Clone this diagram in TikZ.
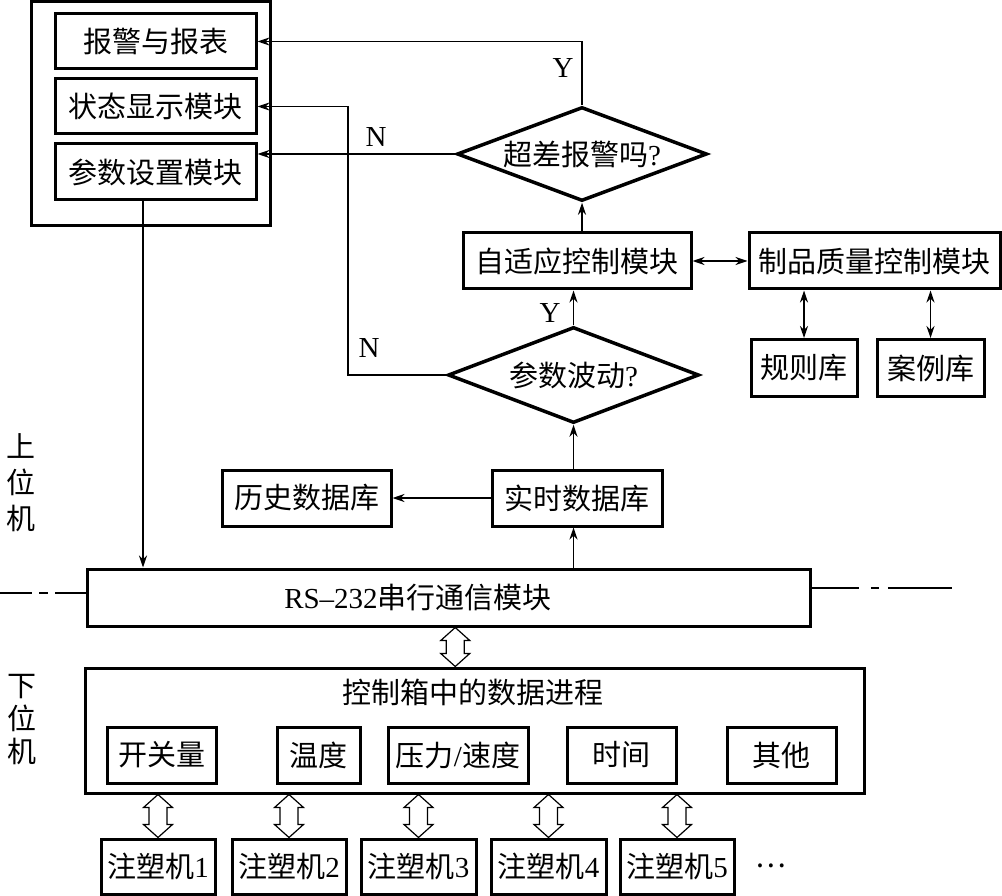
\documentclass[tikz,border=0pt]{standalone}
\usepackage{fontspec}
\setmainfont{Noto Sans CJK SC}
\newfontfamily\lat{Liberation Serif}
\usetikzlibrary{arrows.meta,calc,shapes.geometric}
\newcommand\hollowarr[2]{\draw[line width=1.2pt,fill=white,line join=miter] let \p1=#1, \p2=#2 in
  (\x1,\y1) -- (\x1+14.5pt,\y1-13pt) -- (\x1+9pt,\y1-13pt) -- (\x1+9pt,\y2+13pt) -- (\x1+14.5pt,\y2+13pt)
  -- (\x1,\y2) -- (\x1-14.5pt,\y2+13pt) -- (\x1-9pt,\y2+13pt) -- (\x1-9pt,\y1-13pt) -- (\x1-14.5pt,\y1-13pt) -- cycle;}
\begin{document}
\begin{tikzpicture}[x=1pt,y=-1pt,
  every node/.style={font=\fontsize{29pt}{32pt}\selectfont,inner sep=0pt},
  blk/.style={draw,line width=3pt,minimum height=55pt},
  dia/.style={draw,line width=3.5pt,shape=diamond,aspect=2.66,minimum width=250pt,minimum height=94pt},
  conn/.style={line width=1.3pt},
  arr/.style={conn,-{Stealth[length=12pt,width=8pt,inset=4pt]}},
  arrtwo/.style={conn,{Stealth[length=12pt,width=8pt,inset=4pt]}-{Stealth[length=12pt,width=8pt,inset=4pt]}},
  lbl/.style={font=\lat\fontsize{29pt}{32pt}\selectfont}]
\useasboundingbox (0,0) rectangle (1002,896);
% upper left group
\node[blk,minimum width=239pt,minimum height=224pt] (outer) at (150.5,114) {};
\node[blk,minimum width=201pt] (alarm) at (155.5,41.5) {报警与报表};
\node[blk,minimum width=201pt] (status) at (155.5,106.5) {状态显示模块};
\node[blk,minimum width=201pt,minimum height=56pt] (param) at (155.5,172) {参数设置模块};
% decisions and modules
\node[dia] (d1) at (582,154) {超差报警吗{\lat ?}};
\node[blk,minimum width=228pt,minimum height=56pt] (adapt) at (577,261) {自适应控制模块};
\node[blk,minimum width=251pt,minimum height=56pt] (quality) at (874.5,261) {制品质量控制模块};
\node[blk,minimum width=106pt,minimum height=57pt] (rule) at (804,368) {规则库};
\node[blk,minimum width=107pt,minimum height=57pt] (case) at (930.5,368) {案例库};
\node[dia,minimum width=251pt,minimum height=96pt] (d2) at (573.5,375) {参数波动{\lat ?}};
\node[blk,minimum width=169pt,minimum height=56pt] (hist) at (306.5,498) {历史数据库};
\node[blk,minimum width=170pt,minimum height=56pt] (rt) at (577,498) {实时数据库};
% side labels
\node[align=center,font=\fontsize{29pt}{36pt}\selectfont] (upper) at (21,483) {上\\位\\机};
\node[align=center,font=\fontsize{29pt}{33pt}\selectfont] (lower) at (22,720) {下\\位\\机};
% RS-232
\node[blk,minimum width=723pt,minimum height=57pt] (rs) at (448.75,597.5) {};
\node (rstext) at (418,598) {{\lat RS–232}串行通信模块};
% control box
\node[blk,minimum width=779pt,minimum height=125pt] (ctrl) at (474.5,730.5) {};
\node (ctrltitle) at (473,692) {控制箱中的数据进程};
\node[blk,minimum width=109pt,minimum height=56pt] (c1) at (161.5,755) {开关量};
\node[blk,minimum width=83pt,minimum height=56pt] (c2) at (318.5,755) {温度};
\node[blk,minimum width=140pt,minimum height=56pt] (c3) at (458,755) {压力{\lat /}速度};
\node[blk,minimum width=109pt,minimum height=56pt] (c4) at (621.5,755) {时间};
\node[blk,minimum width=109pt,minimum height=56pt] (c5) at (781.5,755) {其他};
% machines
\node[blk,minimum width=114pt] (m1) at (158,866.5) {注塑机{\lat 1}};
\node[blk,minimum width=114pt] (m2) at (289,866.5) {注塑机{\lat 2}};
\node[blk,minimum width=115pt] (m3) at (418.5,866.5) {注塑机{\lat 3}};
\node[blk,minimum width=115pt] (m4) at (548.5,866.5) {注塑机{\lat 4}};
\node[blk,minimum width=114pt] (m5) at (677,866.5) {注塑机{\lat 5}};
\node (dots) at (771,866) {…};
% labels Y / N
\node[lbl] (y1) at (563,68) {Y};
\node[lbl] (y2) at (550,313) {Y};
\node[lbl] (n1) at (376,137) {N};
\node[lbl] (n2) at (369,348) {N};
% coordinates
\coordinate (nbend) at (348,375);
\coordinate (pd) at (143,0);
\coordinate (lend) at (0,593);
\coordinate (rend) at (952,588);
\coordinate (hx) at ($(rs.south)+(6.5,0)$);
% connectors
\draw[arr] (d1.north) |- (alarm.east);
\draw[arr] (d1.west) -- (d1.west -| param.east);
\draw[arr] (d2.west) -- (nbend) |- (status.east);
\draw[arr] (d1.south |- adapt.north) -- (d1.south);
\draw[arr] (d2.north) -- (d2.north |- adapt.south);
\draw[arrtwo] (adapt.east) -- (quality.west);
\draw[arrtwo] (rule.north) -- (rule.north |- quality.south);
\draw[arrtwo] (case.north) -- (case.north |- quality.south);
\draw[arr] (d2.south |- rt.north) -- (d2.south);
\draw[arr] (rt.west) -- (hist.east);
\draw[arr] (d2.south |- rs.north) -- (d2.south |- rt.south);
\draw[arr] (param.south -| pd) -- (rs.north -| pd);
% dash-dot boundary line
\draw[conn,dash pattern=on 32pt off 7pt on 9pt off 7pt on 40pt] (lend) -- (lend -| rs.west);
\draw[conn,dash pattern=on 47pt off 12pt on 8pt off 9pt on 80pt] (rend -| rs.east) -- (rend);
% hollow double arrows
\hollowarr{(hx)}{(hx |- ctrl.north)}
\hollowarr{(m1.north |- ctrl.south)}{(m1.north)}
\hollowarr{(m2.north |- ctrl.south)}{(m2.north)}
\hollowarr{(m3.north |- ctrl.south)}{(m3.north)}
\hollowarr{(m4.north |- ctrl.south)}{(m4.north)}
\hollowarr{(m5.north |- ctrl.south)}{(m5.north)}
\end{tikzpicture}
\end{document}
